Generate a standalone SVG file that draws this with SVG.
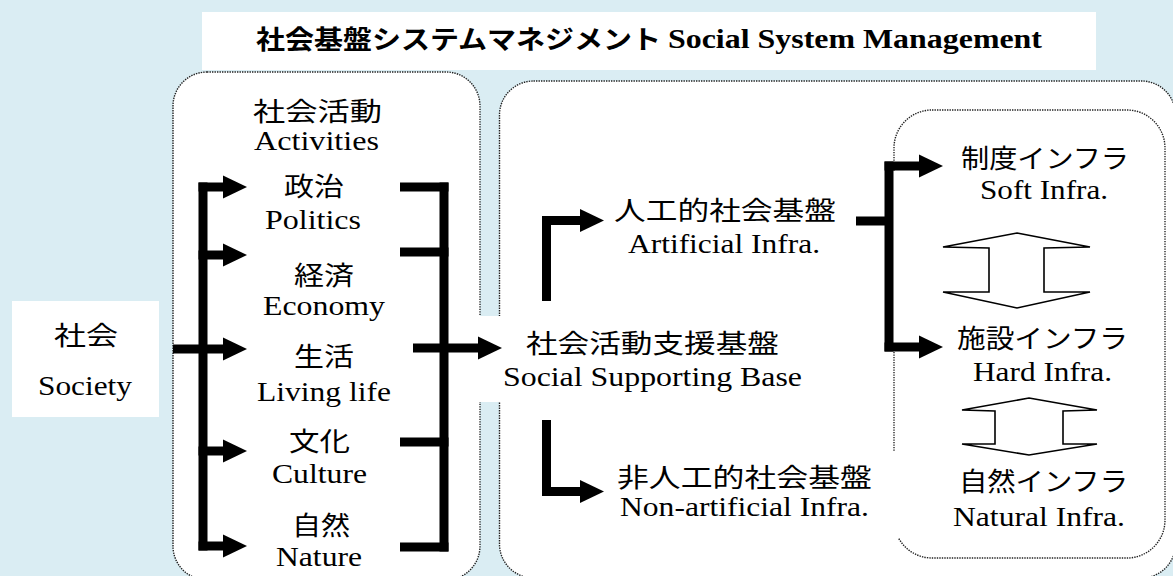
<svg xmlns="http://www.w3.org/2000/svg" width="1173" height="576" viewBox="0 0 1173 576">
<defs>
<style>
.bg{fill:#daedf3}
.box{fill:#fff;stroke:#222;stroke-width:1.4;stroke-dasharray:1.4 1.1}
.plain{fill:#fff;stroke:none}
.jp{font-family:"Noto Sans CJK JP","Noto Sans",sans-serif;font-size:26px;fill:#000}
.en{font-family:"Liberation Serif","Times New Roman",serif;font-size:28px;fill:#000}
.tjp{font-family:"Noto Sans CJK JP","Noto Sans",sans-serif;font-size:26px;font-weight:bold;fill:#000}
.ten{font-family:"Liberation Serif","Times New Roman",serif;font-size:28px;font-weight:bold;fill:#000}
.conn{fill:none;stroke:#000;stroke-width:9;stroke-linejoin:miter;stroke-linecap:butt}
.dbl{fill:#fff;stroke:#000;stroke-width:1.6;stroke-linejoin:miter}
</style>
<marker id="ah" markerUnits="userSpaceOnUse" markerWidth="24" markerHeight="24" refX="0" refY="11.5" orient="auto" overflow="visible">
<path d="M0,0 L24,11.5 L0,23 z" fill="#000"/>
</marker>
</defs>
<rect class="bg" x="0" y="0" width="1173" height="576"/>

<g id="title">
<rect class="plain" x="202" y="12" width="894" height="58"/>
<text class="tjp" x="256" y="49" textLength="405" lengthAdjust="spacingAndGlyphs">社会基盤システムマネジメント</text>
<text class="ten" x="668" y="48" textLength="374" lengthAdjust="spacingAndGlyphs">Social System Management</text>
</g>

<g id="activities-box">
<rect class="box" x="173" y="72" width="307" height="508" rx="34" ry="34"/>
<text class="jp" x="253" y="121" textLength="129" lengthAdjust="spacingAndGlyphs">社会活動</text>
<text class="en" x="254" y="150" textLength="125" lengthAdjust="spacingAndGlyphs">Activities</text>
</g>

<g id="support-box">
<rect class="box" x="499.5" y="81" width="676" height="497" rx="34" ry="34"/>
</g>

<g id="infra-box">
<rect class="box" x="894" y="110" width="271" height="448" rx="38" ry="38"/>
<rect class="plain" x="889" y="171" width="9" height="180"/>
</g>

<g id="society">
<rect class="plain" x="12" y="301" width="147" height="116"/>
<text class="jp" x="54" y="345" textLength="64" lengthAdjust="spacingAndGlyphs">社会</text>
<text class="en" x="38" y="395" textLength="94" lengthAdjust="spacingAndGlyphs">Society</text>
</g>

<g id="politics">
<text class="jp" x="284" y="196" textLength="60" lengthAdjust="spacingAndGlyphs">政治</text>
<text class="en" x="265" y="229" textLength="96" lengthAdjust="spacingAndGlyphs">Politics</text>
</g>
<g id="economy">
<text class="jp" x="294" y="285" textLength="60" lengthAdjust="spacingAndGlyphs">経済</text>
<text class="en" x="263" y="315" textLength="122" lengthAdjust="spacingAndGlyphs">Economy</text>
</g>
<g id="living">
<text class="jp" x="294" y="366" textLength="60" lengthAdjust="spacingAndGlyphs">生活</text>
<text class="en" x="257" y="401" textLength="134" lengthAdjust="spacingAndGlyphs">Living life</text>
</g>
<g id="culture">
<text class="jp" x="289" y="451" textLength="61" lengthAdjust="spacingAndGlyphs">文化</text>
<text class="en" x="272" y="483" textLength="95" lengthAdjust="spacingAndGlyphs">Culture</text>
</g>
<g id="nature">
<text class="jp" x="292" y="535" textLength="58" lengthAdjust="spacingAndGlyphs">自然</text>
<text class="en" x="276" y="566" textLength="86" lengthAdjust="spacingAndGlyphs">Nature</text>
</g>

<g id="social-supporting-base">
<rect class="plain" x="479" y="316" width="321" height="86"/>
<text class="jp" x="526" y="353" textLength="253" lengthAdjust="spacingAndGlyphs">社会活動支援基盤</text>
<text class="en" x="503" y="386" textLength="299" lengthAdjust="spacingAndGlyphs">Social Supporting Base</text>
</g>

<g id="artificial">
<text class="jp" x="614" y="220" textLength="222" lengthAdjust="spacingAndGlyphs">人工的社会基盤</text>
<text class="en" x="628" y="253" textLength="192" lengthAdjust="spacingAndGlyphs">Artificial Infra.</text>
</g>

<g id="non-artificial">
<rect class="plain" x="600" y="452" width="301" height="86"/>
<text class="jp" x="617" y="487" textLength="255" lengthAdjust="spacingAndGlyphs">非人工的社会基盤</text>
<text class="en" x="620" y="516" textLength="249" lengthAdjust="spacingAndGlyphs">Non-artificial Infra.</text>
</g>

<g id="soft-infra">
<text class="jp" x="961" y="168" textLength="168" lengthAdjust="spacingAndGlyphs">制度インフラ</text>
<text class="en" x="980" y="199" textLength="128" lengthAdjust="spacingAndGlyphs">Soft Infra.</text>
</g>
<g id="hard-infra">
<text class="jp" x="957" y="348" textLength="171" lengthAdjust="spacingAndGlyphs">施設インフラ</text>
<text class="en" x="973" y="381" textLength="139" lengthAdjust="spacingAndGlyphs">Hard Infra.</text>
</g>
<g id="natural-infra">
<text class="jp" x="959" y="491" textLength="169" lengthAdjust="spacingAndGlyphs">自然インフラ</text>
<text class="en" x="953" y="526" textLength="172" lengthAdjust="spacingAndGlyphs">Natural Infra.</text>
</g>

<g id="connectors">
<path class="conn" d="M203 182.5 V550.5"/>
<path class="conn" d="M198.5 187 H223" marker-end="url(#ah)"/>
<path class="conn" d="M198.5 255 H223" marker-end="url(#ah)"/>
<path class="conn" d="M173 349 H223" marker-end="url(#ah)"/>
<path class="conn" d="M198.5 451 H223" marker-end="url(#ah)"/>
<path class="conn" d="M198.5 546 H223" marker-end="url(#ah)"/>

<path class="conn" d="M444 182.5 V551.5"/>
<path class="conn" d="M400 187 H448.5"/>
<path class="conn" d="M400 252 H448.5"/>
<path class="conn" d="M400 442 H448.5"/>
<path class="conn" d="M400 547 H448.5"/>
<path class="conn" d="M413 348 H478" marker-end="url(#ah)"/>

<path class="conn" d="M546.5 301 V220.5 H580" marker-end="url(#ah)"/>
<path class="conn" d="M546.5 420 V491.5 H580" marker-end="url(#ah)"/>

<path class="conn" d="M856 221 H889"/>
<path class="conn" d="M889 161.5 V351.5"/>
<path class="conn" d="M884.5 166 H919" marker-end="url(#ah)"/>
<path class="conn" d="M884.5 347 H919" marker-end="url(#ah)"/>

<polygon class="dbl" points="1017,233 1090,247 1044,248 1044,292 1090,292 1017,308 943,292 989,292 989,248 943,247"/>
<polygon class="dbl" points="1029,398 1097,410 1063,411 1063,444 1097,444 1029,455 962,444 995,444 995,411 962,410"/>
</g>
</svg>
